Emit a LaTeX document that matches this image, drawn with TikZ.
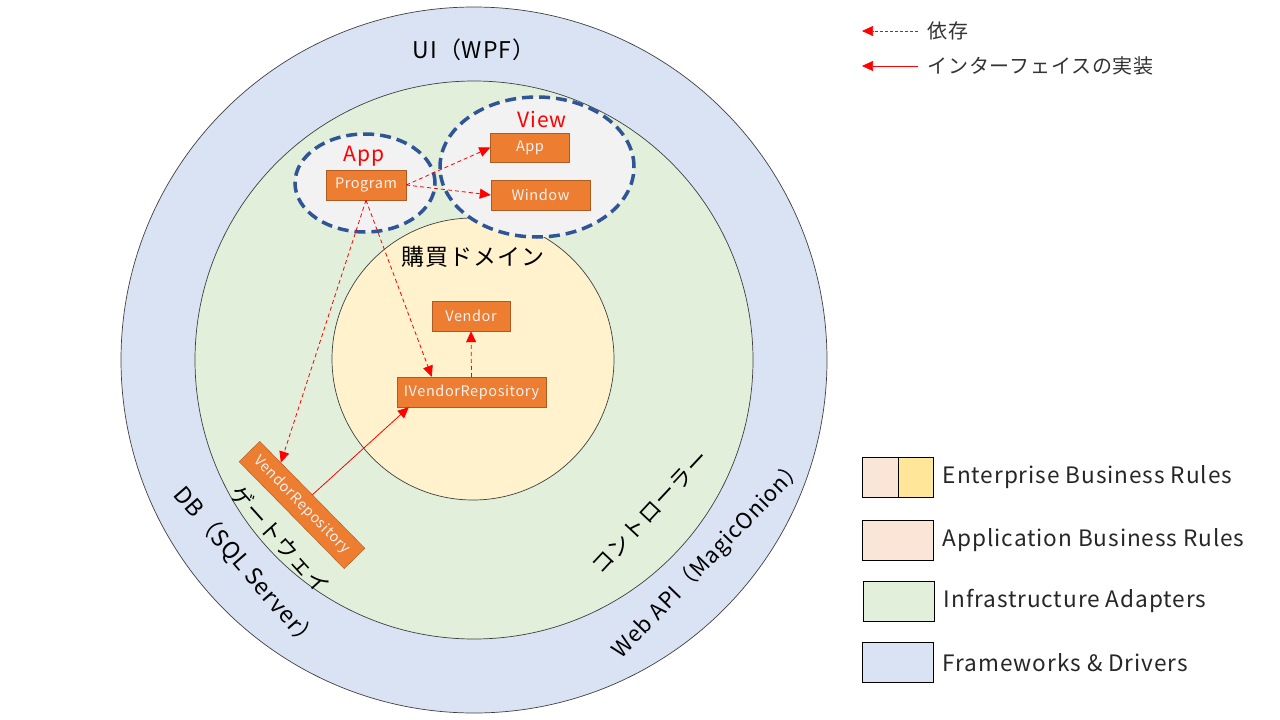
\documentclass[tikz,border=0pt]{standalone}
\usepackage{fontspec}
\setmainfont{Noto Sans CJK JP}
\usetikzlibrary{arrows.meta,calc,positioning}
\definecolor{fwblue}{HTML}{DAE3F3}
\definecolor{iagreen}{HTML}{E2EFDA}
\definecolor{ebryellow}{HTML}{FFF2CC}
\definecolor{boxfill}{HTML}{ED7D31}
\definecolor{boxline}{HTML}{AE5A21}
\definecolor{pkgline}{HTML}{2F5597}
\definecolor{peach}{HTML}{FBE5D6}
\definecolor{gold}{HTML}{FFE699}
\newcommand\wide[1]{\fontsize{#1}{#1}\selectfont\addfontfeature{LetterSpace=4}}

\begin{document}
\begin{tikzpicture}[x=1pt,y=-1pt]
\tikzset{
  box/.style={draw=boxline,fill=boxfill,text=white!95!black,inner sep=0pt,
    minimum height=30pt,font=\wide{14.5}},
  layer/.style={draw=black!75,line width=0.7pt},
  pkg/.style={draw=pkgline,fill=black!5,line width=3.5pt,dash pattern=on 11pt off 6pt},
  dep/.style={red,line width=0.8pt,dash pattern=on 4pt off 3pt,-{Triangle[length=11pt,width=10pt]}},
  impl/.style={red,line width=0.8pt,-{Triangle[length=11pt,width=10pt]}},
  big/.style={font=\wide{23}},
  keybox/.style={draw=black,inner sep=0pt,minimum width=71pt,minimum height=40pt,anchor=north west},
  keytext/.style={anchor=west,font=\wide{22.6},text=black!85},
}
\useasboundingbox (0,0) rectangle (1280,720);

% layers
\draw[layer,fill=fwblue] (474,360) circle[radius=353pt];
\draw[layer,fill=iagreen] (474,360) circle[radius=279pt];
\draw[layer,fill=ebryellow] (473,359) circle[radius=141pt];

% packages
\draw[pkg] (365,183) ellipse[x radius=70pt,y radius=49pt];
\draw[pkg] (537,167) ellipse[x radius=97pt,y radius=70pt];

% layer names
\node[big] (ui) at (474,50) {UI（WPF）};
\node[big] (domain) at (473,257) {購買ドメイン};
\node[big,rotate=-49] (db) at (246,568) {DB（SQL Server）};
\node[big,rotate=-48,font=\wide{22}] (gw) at (280,540) {ゲートウェイ};
\node[big,rotate=47,font=\wide{22}] (ctrl) at (650,512) {コントローラー};
\node[big,rotate=46,font=\wide{22}] (web) at (709,559) {Web API（MagicOnion）};
\node[font=\wide{21},text=red] (appname) at (364,156) {App};
\node[font=\wide{21},text=red] (viewname) at (542,119) {View};

% classes
\node[box,minimum width=80pt] (prog) at (366,185) {Program};
\node[box,minimum width=79pt,minimum height=29pt] (vapp) at (530,147.5) {App};
\node[box,minimum width=99pt] (win) at (540.5,195) {Window};
\node[box,minimum width=78pt] (vendor) at (471,316) {Vendor};
\node[box,minimum width=149pt] (ivr) at (471.5,392) {IVendorRepository};
\node[box,minimum width=150pt,minimum height=29pt,rotate=-45.5] (vr) at (302,505) {VendorRepository};

% dependencies
\draw[dep] (prog.east) -- (vapp.west);
\draw[dep] (prog.east) -- (win.west);
\draw[dep] (prog.south) -- ([xshift=35pt]ivr.north west);
\draw[dep] (prog.south) -- ($(vr.north west)!0.2!(vr.north east)$);
\draw[dep] (ivr.north) -- (vendor.south);
\draw[impl] (vr.north) -- ([xshift=12pt]ivr.south west);

% legend
\coordinate (d1) at (918,31); \coordinate (d0) at (862,31);
\coordinate (i1) at (918,66); \coordinate (i0) at (862,66);
\draw[dep,line width=0.6pt,dash pattern=on 3pt off 2pt] (d1) -- (d0);
\draw[impl,line width=0.6pt] (i1) -- (i0);
\node[anchor=west,font=\wide{20},text=black!80] (deptext) at (924,31) {依存};
\node[anchor=west,font=\wide{20},text=black!80] (impltext) at (924,66) {インターフェイスの実装};

\node[keybox,fill=peach,minimum width=35.5pt] (ebra) at (862,457) {};
\node[keybox,fill=gold,minimum width=35.5pt] (ebrb) at (897.5,457) {};
\node[keybox,fill=peach] (abr) at (862,520) {};
\node[keybox,fill=iagreen] (ia) at (863,581) {};
\node[keybox,fill=fwblue] (fd) at (862,642) {};
\foreach \k/\txt in {ebrb/Enterprise Business Rules,abr/Application Business Rules,
  ia/Infrastructure Adapters,fd/Frameworks \& Drivers}
  \node[keytext] at ($(\k.east)+(6,0)$) {\txt};
\end{tikzpicture}
\end{document}
